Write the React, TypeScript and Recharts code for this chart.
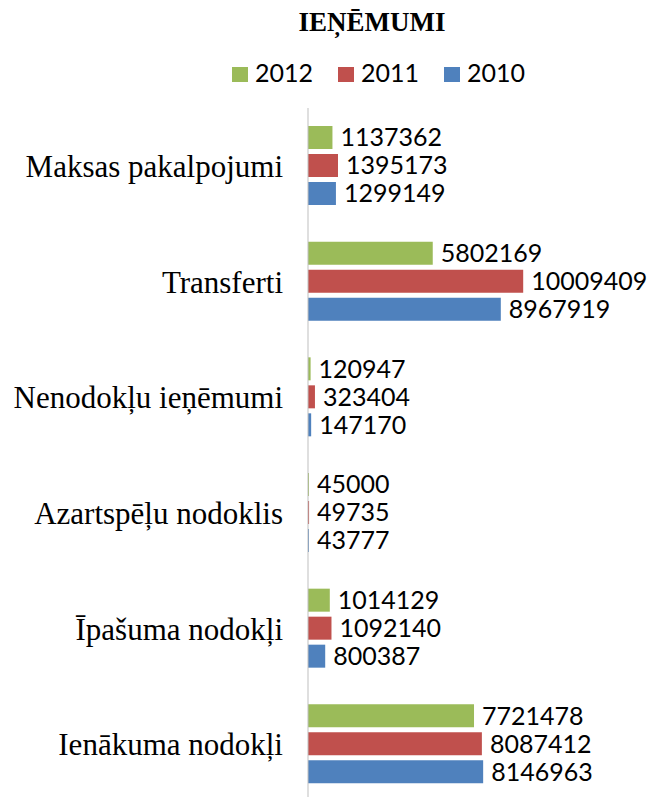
import { Bar, BarChart, LabelList, Legend, XAxis, YAxis } from 'recharts'

const categories = [
  'Maksas pakalpojumi',
  'Transferti',
  'Nenodokļu ieņēmumi',
  'Azartspēļu nodoklis',
  'Īpašuma nodokļi',
  'Ienākuma nodokļi',
]
const years = ['2012', '2011', '2010']
const values2012 = [1137362, 5802169, 120947, 45000, 1014129, 7721478]
const values2011 = [1395173, 10009409, 323404, 49735, 1092140, 8087412]
const values2010 = [1299149, 8967919, 147170, 43777, 800387, 8146963]

const data = categories.map((name, i) => ({
  name,
  y2012: values2012[i],
  y2011: values2011[i],
  y2010: values2010[i],
}))

const serif = '"Liberation Serif", serif'
const sans = 'Lato, sans-serif'

function renderLegend(props: any) {
  const items = [...(props.payload ?? [])].sort(
    (a: any, b: any) => years.indexOf(String(a.value)) - years.indexOf(String(b.value)),
  )
  return (
    <div style={{ display: 'flex', alignItems: 'flex-start', fontFamily: sans, fontSize: 25, lineHeight: '25px' }}>
      {items.map((it: any) => (
        <div key={it.value} style={{ display: 'flex', alignItems: 'flex-start', marginRight: 25 }}>
          <span style={{ width: 16, height: 15, background: it.color, marginTop: 7, marginRight: 7 }} />
          <span style={{ color: '#000' }}>{it.value}</span>
        </div>
      ))}
    </div>
  )
}

export default function App() {
  return (
    <div style={{ position: 'absolute', top: 0, left: 0, width: 657, height: 797, overflow: 'hidden', background: '#fff' }}>
      <div
        style={{
          position: 'absolute',
          top: 9,
          left: 272,
          width: 200,
          textAlign: 'center',
          fontFamily: serif,
          fontWeight: 'bold',
          fontSize: 27,
          lineHeight: '27px',
          zIndex: 1,
        }}
      >
        IEŅĒMUMI
      </div>
      <BarChart
        width={657}
        height={812}
        data={data}
        layout="vertical"
        margin={{ top: 108, right: 91, bottom: 10, left: 0 }}
        barSize={23}
        barGap={5}
      >
        <XAxis type="number" domain={[0, 12000000]} hide />
        <YAxis
          type="category"
          dataKey="name"
          width={308}
          interval={0}
          axisLine={{ stroke: '#bfbfbf' }}
          tickLine={false}
          tickSize={0}
          tickMargin={25}
          tick={{ fontFamily: serif, fontSize: 31, fill: '#000' }}
        />
        <Legend
          layout="horizontal"
          verticalAlign="middle"
          align="center"
          content={renderLegend}
          wrapperStyle={{ top: 60, left: 232, width: 'auto', height: 30 }}
        />
        <Bar dataKey="y2012" name="2012" fill="#9bbb59" isAnimationActive={false}>
          <LabelList dataKey="y2012" position="right" offset={8} fill="#000" fontSize={25} fontFamily={sans} />
        </Bar>
        <Bar dataKey="y2011" name="2011" fill="#c0504d" isAnimationActive={false}>
          <LabelList dataKey="y2011" position="right" offset={8} fill="#000" fontSize={25} fontFamily={sans} />
        </Bar>
        <Bar dataKey="y2010" name="2010" fill="#4f81bd" isAnimationActive={false}>
          <LabelList dataKey="y2010" position="right" offset={8} fill="#000" fontSize={25} fontFamily={sans} />
        </Bar>
      </BarChart>
    </div>
  )
}
